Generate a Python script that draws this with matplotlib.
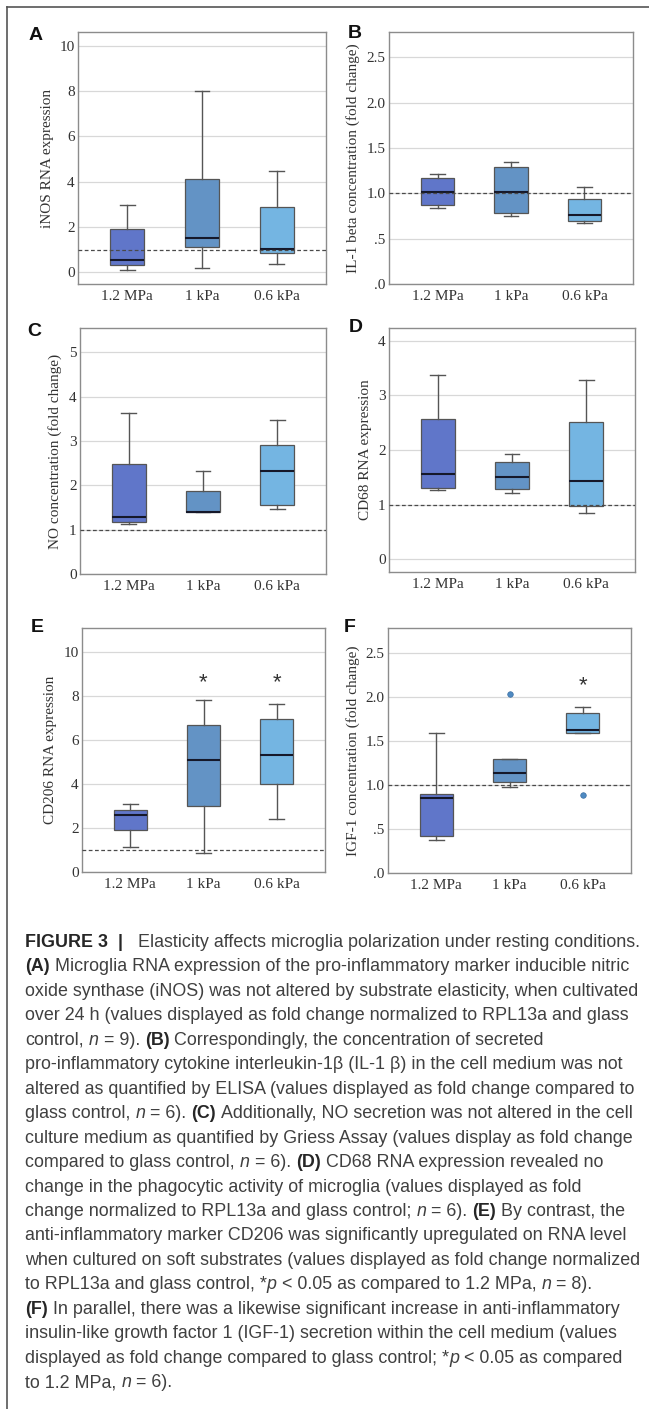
import matplotlib
matplotlib.use("Agg")
import matplotlib.pyplot as plt
from matplotlib.lines import Line2D

W, H = 649, 1409

groups = ["1.2 MPa", "1 kPa", "0.6 kPa"]
colors = ["#6076c9", "#6393c5", "#74b5e2"]

# box stats: whisker low, q1, median, q3, whisker high
a_lo = [0.10, 0.20, 0.38]
a_q1 = [0.32, 1.13, 0.86]
a_med = [0.54, 1.52, 1.03]
a_q3 = [1.89, 4.10, 2.89]
a_hi = [2.98, 8.00, 4.48]

b_lo = [0.835, 0.754, 0.677]
b_q1 = [0.87, 0.78, 0.696]
b_med = [1.018, 1.02, 0.76]
b_q3 = [1.165, 1.29, 0.934]
b_hi = [1.21, 1.347, 1.066]

c_lo = [1.12, 1.40, 1.47]
c_q1 = [1.18, 1.40, 1.55]
c_med = [1.28, 1.41, 2.33]
c_q3 = [2.49, 1.87, 2.91]
c_hi = [3.64, 2.33, 3.47]

d_lo = [1.263, 1.219, 0.853]
d_q1 = [1.31, 1.281, 0.975]
d_med = [1.566, 1.506, 1.427]
d_q3 = [2.573, 1.786, 2.512]
d_hi = [3.367, 1.927, 3.275]

e_lo = [1.12, 0.845, 2.42]
e_q1 = [1.89, 3.01, 4.02]
e_med = [2.60, 5.08, 5.32]
e_q3 = [2.83, 6.67, 6.95]
e_hi = [3.10, 7.81, 7.62]
e_stars = [1, 2]
e_star_y = 8.6

f_lo = [0.369, 0.973, 1.583]
f_q1 = [0.425, 1.036, 1.583]
f_med = [0.848, 1.135, 1.625]
f_q3 = [0.90, 1.29, 1.81]
f_hi = [1.59, 1.29, 1.886]
f_fliers = [[], [2.03], [0.886]]
f_stars = [2]
f_star_y = 2.13

ticks_int10 = [0, 2, 4, 6, 8, 10]
ticks_half = [0, 0.5, 1.0, 1.5, 2.0, 2.5]
labels_half = [".0", ".5", "1.0", "1.5", "2.0", "2.5"]

serif = "Liberation Serif"
sans = "Liberation Sans"
fs = 11

fig = plt.figure(figsize=(W / 100, H / 100), dpi=100)


def px_axes(l, t, r, b):
    return fig.add_axes([l / W, 1 - b / H, (r - l) / W, (b - t) / H])


def panel(box, letter, letter_xy, lo, q1, med, q3, hi, ylim, yticks, ylabels,
          ylabel, label_x, fliers=None, stars=None, star_y=None):
    ax = px_axes(*box)
    stats = []
    for i in range(3):
        stats.append({"whislo": lo[i], "q1": q1[i], "med": med[i], "q3": q3[i],
                      "whishi": hi[i],
                      "fliers": fliers[i] if fliers else []})
    ax.axhline(1, color="#4a4a4a", lw=0.9, ls=(0, (3, 2)), zorder=3)
    res = ax.bxp(stats, positions=[0, 1, 2], widths=0.45, patch_artist=True,
                 capwidths=0.2, manage_ticks=False,
                 boxprops=dict(edgecolor="#555555", linewidth=0.9),
                 whiskerprops=dict(color="#555555", linewidth=1.0),
                 capprops=dict(color="#555555", linewidth=1.0),
                 medianprops=dict(color="#15182a", linewidth=1.5),
                 flierprops=dict(marker="o", markersize=4, markerfacecolor="#4f8ac2",
                                 markeredgecolor="#3b6fa3", markeredgewidth=0.5))
    for patch, c in zip(res["boxes"], colors):
        patch.set_facecolor(c)
        patch.set_zorder(2)
    ax.set_xlim(-0.66, 2.66)
    ax.set_ylim(*ylim)
    ax.set_yticks(yticks)
    ax.set_yticklabels(ylabels if ylabels else [str(v) for v in yticks])
    ax.set_xticks([0, 1, 2])
    ax.set_xticklabels(groups)
    ax.yaxis.grid(True, color="#d8d8d8", lw=0.9)
    ax.set_axisbelow(True)
    ax.tick_params(axis="both", length=0, labelsize=fs, labelcolor="#333333")
    ax.tick_params(axis="x", pad=4)
    ax.tick_params(axis="y", pad=2.5)
    for lab in ax.get_xticklabels() + ax.get_yticklabels():
        lab.set_fontfamily(serif)
    for s in ax.spines.values():
        s.set_color("#8c8c8c")
        s.set_linewidth(1.0)
    ax.set_ylabel(ylabel, fontfamily=serif, fontsize=fs, color="#333333")
    width = box[2] - box[0]
    ax.yaxis.set_label_coords((label_x + 7 - box[0]) / width, 0.5)
    if stars:
        for s in stars:
            ax.text(s, star_y, "*", ha="center", va="center", fontsize=16,
                    fontfamily=sans, color="#333333")
    fig.text(letter_xy[0] / W, 1 - letter_xy[1] / H, letter, fontfamily=sans,
             fontweight="bold", fontsize=14, ha="left", va="center", color="#111111")
    return ax


panel((78, 32, 326, 284), "A", (29, 35), a_lo, a_q1, a_med, a_q3, a_hi,
      (-0.52, 10.6), ticks_int10, None, "iNOS RNA expression", 47)
panel((389, 32, 633, 284), "B", (348, 33), b_lo, b_q1, b_med, b_q3, b_hi,
      (0, 2.78), ticks_half, labels_half, "IL-1 beta concentration (fold change)", 353)
panel((80, 328, 326, 574), "C", (27, 332), c_lo, c_q1, c_med, c_q3, c_hi,
      (0, 5.55), [0, 1, 2, 3, 4, 5], None, "NO concentration (fold change)", 55)
panel((389, 328, 635, 572), "D", (349, 328), d_lo, d_q1, d_med, d_q3, d_hi,
      (-0.23, 4.23), [0, 1, 2, 3, 4], None, "CD68 RNA expression", 365)
panel((82, 628, 325, 872), "E", (31, 627), e_lo, e_q1, e_med, e_q3, e_hi,
      (0, 11.1), ticks_int10, None, "CD206 RNA expression", 50,
      stars=e_stars, star_y=e_star_y)
panel((388, 628, 631, 873), "F", (344, 627), f_lo, f_q1, f_med, f_q3, f_hi,
      (0, 2.78), ticks_half, labels_half, "IGF-1 concentration (fold change)", 353,
      fliers=f_fliers, stars=f_stars, star_y=f_star_y)

# partial page frame
fig.add_artist(Line2D([7 / W, 1], [1 - 7 / H, 1 - 7 / H], color="#555555", lw=1.2))
fig.add_artist(Line2D([7 / W, 7 / W], [0, 1 - 7 / H], color="#555555", lw=1.2))

# caption: (text, style) segments, style r=regular b=bold i=italic
caption = [
    [("FIGURE 3  ", "b"), ("|", "b"), ("   Elasticity affects microglia polarization under resting conditions.", "r")],
    [("(A)", "b"), (" Microglia RNA expression of the pro-inflammatory marker inducible nitric", "r")],
    [("oxide synthase (iNOS) was not altered by substrate elasticity, when cultivated", "r")],
    [("over 24 h (values displayed as fold change normalized to RPL13a and glass", "r")],
    [("control, ", "r"), ("n", "i"), (" = 9). ", "r"), ("(B)", "b"),
     (" Correspondingly, the concentration of secreted", "r")],
    [("pro-inflammatory cytokine interleukin-1\u03b2 (IL-1 \u03b2) in the cell medium was not", "r")],
    [("altered as quantified by ELISA (values displayed as fold change compared to", "r")],
    [("glass control, ", "r"), ("n", "i"), (" = 6). ", "r"), ("(C)", "b"),
     (" Additionally, NO secretion was not altered in the cell", "r")],
    [("culture medium as quantified by Griess Assay (values display as fold change", "r")],
    [("compared to glass control, ", "r"), ("n", "i"), (" = 6). ", "r"), ("(D)", "b"),
     (" CD68 RNA expression revealed no", "r")],
    [("change in the phagocytic activity of microglia (values displayed as fold", "r")],
    [("change normalized to RPL13a and glass control; ", "r"), ("n", "i"), (" = 6). ", "r"),
     ("(E)", "b"), (" By contrast, the", "r")],
    [("anti-inflammatory marker CD206 was significantly upregulated on RNA level", "r")],
    [("when cultured on soft substrates (values displayed as fold change normalized", "r")],
    [("to RPL13a and glass control, *", "r"), ("p", "i"), (" < 0.05 as compared to 1.2 MPa, ", "r"),
     ("n", "i"), (" = 8).", "r")],
    [("(F)", "b"), (" In parallel, there was a likewise significant increase in anti-inflammatory", "r")],
    [("insulin-like growth factor 1 (IGF-1) secretion within the cell medium (values", "r")],
    [("displayed as fold change compared to glass control; *", "r"), ("p", "i"),
     (" < 0.05 as compared", "r")],
    [("to 1.2 MPa, ", "r"), ("n", "i"), (" = 6).", "r")],
]

cap_size = 12.9
renderer = fig.canvas.get_renderer()


def raw_width(txt, style):
    t = fig.text(0, 0, txt, fontsize=cap_size, fontfamily=sans,
                 fontweight="bold" if style == "b" else "normal",
                 fontstyle="italic" if style == "i" else "normal")
    w = t.get_window_extent(renderer).width
    t.remove()
    return w


def adv_width(txt, style):
    # advance width, bracketed so side bearings and spaces count
    return raw_width("|" + txt + "|", style) - raw_width("||", style)


y0, dy = 947, 24.45
for i, segs in enumerate(caption):
    x = 25
    y = y0 + i * dy
    for txt, style in segs:
        lead = txt[:len(txt) - len(txt.lstrip(" "))]
        core = txt.strip(" ")
        trail = txt[len(txt.rstrip(" ")):]
        if lead:
            x += adv_width(lead, style)
        fig.text(x / W, 1 - y / H, core, fontsize=cap_size, fontfamily=sans,
                 fontweight="bold" if style == "b" else "normal",
                 fontstyle="italic" if style == "i" else "normal",
                 color="#262626" if style == "b" else "#404040",
                 ha="left", va="baseline")
        x += adv_width(core, style)
        if trail:
            x += adv_width(trail, style)

fig.savefig("out.png", dpi=100)
